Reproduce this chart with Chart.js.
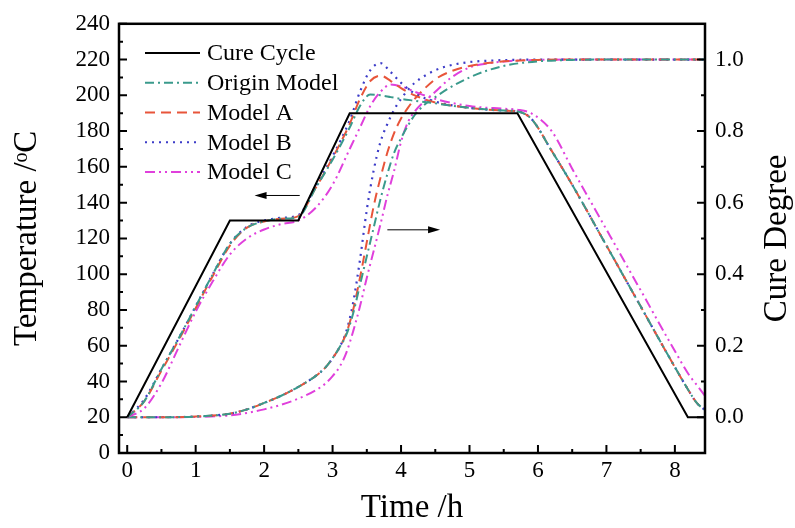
<!DOCTYPE html>
<html>
<head>
<meta charset="utf-8">
<script src="https://cdn.jsdelivr.net/npm/chart.js@4.4.1/dist/chart.umd.min.js"></script>
<style>
html, body { margin: 0; padding: 0; background: #fff; }
</style>
</head>
<body>
<canvas id="grafico" width="795" height="528"></canvas>
<script>
var serif = "'Liberation Serif', 'Times New Roman', serif";

// cure cycle (left axis, degC)
var cycleTime = [0, 1.5, 2.5, 3.25, 5.7, 8.19, 8.44];
var cycleTemp = [20, 130, 130, 190, 190, 20, 20];

// model temperatures (left axis)
var tempTime = [0, 0.25, 0.5, 0.75, 1.0, 1.25, 1.5, 1.75, 2.0, 2.25, 2.5, 2.75, 3.0, 3.25, 3.4, 3.55, 3.7, 3.85, 4.0, 4.2, 4.5, 5.0, 5.5, 5.7, 5.9, 6.2, 6.5, 7.0, 7.5, 8.0, 8.2, 8.32, 8.44];
var originTemp = [20, 29, 47, 64, 82, 100, 117, 126, 129.5, 131, 132, 148, 164, 182, 194, 200.5, 200, 199, 198, 197, 195.5, 193, 191.5, 191, 187, 169, 150, 116, 82, 48, 35, 28, 24];
var modelATemp = [20, 29, 46, 63, 81, 99, 116, 126, 129.5, 131, 132.5, 148, 165, 184, 198, 208, 211, 208, 204, 200, 196, 193, 191.5, 191, 187, 169, 150, 116, 82, 48, 35, 28, 24];
var modelBTemp = [20, 30, 47, 64, 82, 100, 117, 126.5, 130, 131.5, 133, 149, 166, 186, 202, 214, 218, 213, 207, 201, 196.5, 193, 191.5, 191, 187, 169, 150, 116, 82, 48, 35, 28, 24];
var modelCTemp = [20, 25, 39, 59, 79, 96, 111, 120, 125, 128, 130, 137, 150, 170, 182, 194, 202, 206, 205, 202, 198, 194, 192.5, 192, 190, 180, 159, 125, 91, 57, 44, 38, 32];

// cure degree (right axis)
var cureTime = [0, 0.5, 1.0, 1.5, 1.75, 2.0, 2.25, 2.5, 2.75, 2.9, 3.0, 3.1, 3.2, 3.3, 3.4, 3.5, 3.6, 3.7, 3.8, 3.9, 4.0, 4.1, 4.2, 4.35, 4.5, 4.7, 5.0, 5.3, 5.6, 6.0, 6.5, 7.0, 8.44];
var originCure = [0, 0, 0.002, 0.01, 0.022, 0.04, 0.06, 0.085, 0.115, 0.14, 0.165, 0.195, 0.23, 0.29, 0.37, 0.45, 0.53, 0.61, 0.68, 0.74, 0.78, 0.815, 0.845, 0.875, 0.895, 0.92, 0.95, 0.972, 0.986, 0.995, 0.999, 1.0, 1.0];
var modelACure = [0, 0, 0.002, 0.01, 0.022, 0.04, 0.06, 0.085, 0.115, 0.14, 0.165, 0.195, 0.235, 0.3, 0.39, 0.49, 0.59, 0.67, 0.74, 0.795, 0.835, 0.865, 0.89, 0.92, 0.945, 0.965, 0.982, 0.991, 0.996, 0.999, 1.0, 1.0, 1.0];
var modelBCure = [0, 0, 0.002, 0.01, 0.022, 0.04, 0.06, 0.085, 0.115, 0.14, 0.165, 0.195, 0.24, 0.32, 0.44, 0.58, 0.69, 0.77, 0.82, 0.86, 0.89, 0.915, 0.935, 0.955, 0.97, 0.983, 0.993, 0.997, 0.999, 1.0, 1.0, 1.0, 1.0];
var modelCCure = [0, 0, 0.001, 0.005, 0.012, 0.022, 0.035, 0.052, 0.075, 0.095, 0.115, 0.14, 0.18, 0.24, 0.31, 0.39, 0.465, 0.54, 0.62, 0.69, 0.77, 0.825, 0.855, 0.885, 0.91, 0.945, 0.978, 0.99, 0.996, 0.999, 1.0, 1.0, 1.0];

var legendLabels = ['Cure Cycle', 'Origin Model', 'Model A', 'Model B', 'Model C'];
var timeTicks = [0, 1, 2, 3, 4, 5, 6, 7, 8];
var tempTicks = [0, 20, 40, 60, 80, 100, 120, 140, 160, 180, 200, 220, 240];
var cureTicks = [0.0, 0.2, 0.4, 0.6, 0.8, 1.0];

// arrows: [from time, to time, at temperature]
var arrowToTemp = [2.52, 1.86, 144];
var arrowToCure = [3.80, 4.57, 124.8];

var estilos = [
    {cor: '#000000', traco: [], largura: 2},
    {cor: '#3a9a8c', traco: [9, 4, 2, 4], largura: 2},
    {cor: '#e8553a', traco: [10, 6], largura: 2},
    {cor: '#3c3cc8', traco: [2, 5], largura: 2.2},
    {cor: '#e040dc', traco: [10, 4, 2, 4, 2, 4], largura: 2}
];

function pares(xs, ys) {
    return xs.map(function (x, i) { return {x: x, y: ys[i]}; });
}

function serie(label, pontos, estilo, eixo, curva) {
    return {
        label: label,
        data: pontos,
        yAxisID: eixo,
        borderColor: estilo.cor,
        borderDash: estilo.traco,
        borderWidth: estilo.largura,
        pointRadius: 0,
        fill: false,
        tension: 0,
        cubicInterpolationMode: curva ? 'monotone' : 'default'
    };
}

var dados = {
    datasets: [
        serie(legendLabels[0], pares(cycleTime, cycleTemp), estilos[0], 'y', false),
        serie(legendLabels[1], pares(tempTime, originTemp), estilos[1], 'y', true),
        serie(legendLabels[2], pares(tempTime, modelATemp), estilos[2], 'y', true),
        serie(legendLabels[3], pares(tempTime, modelBTemp), estilos[3], 'y', true),
        serie(legendLabels[4], pares(tempTime, modelCTemp), estilos[4], 'y', true),
        serie(legendLabels[1], pares(cureTime, originCure), estilos[1], 'y1', true),
        serie(legendLabels[2], pares(cureTime, modelACure), estilos[2], 'y1', true),
        serie(legendLabels[3], pares(cureTime, modelBCure), estilos[3], 'y1', true),
        serie(legendLabels[4], pares(cureTime, modelCCure), estilos[4], 'y1', true)
    ]
};

function fixarTicks(lista) {
    return function (scale) {
        scale.ticks = lista.map(function (v) { return {value: v}; });
    };
}

function seta(ctx, x1, x2, y) {
    var dir = x2 > x1 ? 1 : -1;
    ctx.beginPath();
    ctx.moveTo(x1, y);
    ctx.lineTo(x2 - dir * 8, y);
    ctx.stroke();
    ctx.beginPath();
    ctx.moveTo(x2, y);
    ctx.lineTo(x2 - dir * 12, y - 3.5);
    ctx.lineTo(x2 - dir * 12, y + 3.5);
    ctx.closePath();
    ctx.fill();
}

var extras = {
    id: 'extras',
    afterDraw: function (chart) {
        var ctx = chart.ctx, a = chart.chartArea;
        var sx = chart.scales.x, sy = chart.scales.y, sy1 = chart.scales.y1;
        var i, p, len;
        ctx.save();
        ctx.strokeStyle = '#000';
        ctx.fillStyle = '#000';

        // moldura
        ctx.lineWidth = 2.5;
        ctx.strokeRect(a.left, a.top, a.right - a.left, a.bottom - a.top);

        // ticks para dentro
        ctx.lineWidth = 2;
        ctx.beginPath();
        for (i = 0; i <= 16; i++) {
            p = sx.getPixelForValue(i / 2);
            len = i % 2 === 0 ? 8 : 4;
            ctx.moveTo(p, a.bottom);
            ctx.lineTo(p, a.bottom - len);
        }
        for (i = 0; i <= 24; i++) {
            p = sy.getPixelForValue(i * 10);
            len = i % 2 === 0 ? 8 : 4;
            ctx.moveTo(a.left, p);
            ctx.lineTo(a.left + len, p);
        }
        for (i = 0; i <= 10; i++) {
            p = sy1.getPixelForValue(i / 10);
            len = i % 2 === 0 ? 8 : 4;
            ctx.moveTo(a.right, p);
            ctx.lineTo(a.right - len, p);
        }
        ctx.stroke();

        // setas
        ctx.lineWidth = 1;
        seta(ctx, sx.getPixelForValue(arrowToTemp[0]), sx.getPixelForValue(arrowToTemp[1]), sy.getPixelForValue(arrowToTemp[2]));
        seta(ctx, sx.getPixelForValue(arrowToCure[0]), sx.getPixelForValue(arrowToCure[1]), sy.getPixelForValue(arrowToCure[2]));

        // legenda
        ctx.font = '24px ' + serif;
        ctx.textBaseline = 'middle';
        ctx.textAlign = 'left';
        for (i = 0; i < legendLabels.length; i++) {
            var yy = 53 + i * 29.75;
            ctx.strokeStyle = estilos[i].cor;
            ctx.lineWidth = estilos[i].largura;
            ctx.setLineDash(estilos[i].traco);
            ctx.beginPath();
            ctx.moveTo(145, yy);
            ctx.lineTo(200, yy);
            ctx.stroke();
            ctx.setLineDash([]);
            ctx.fillText(legendLabels[i], 207, yy + 1);
        }

        // titulo do eixo direito
        ctx.translate(777, (a.top + a.bottom) / 2);
        ctx.rotate(-Math.PI / 2);
        ctx.textAlign = 'center';
        ctx.font = '33px ' + serif;
        ctx.fillText('Cure Degree', 0, 0);
        ctx.restore();
    }
};

var contexto = document.getElementById('grafico').getContext('2d');
Chart.defaults.color = '#000';
var grafico = new Chart(contexto, {
    type: 'line',
    data: dados,
    plugins: [extras],
    options: {
        responsive: false,
        animation: false,
        layout: {padding: {top: 18, left: 0, right: 0, bottom: 0}},
        plugins: {
            legend: {display: false},
            tooltip: {enabled: false}
        },
        scales: {
            x: {
                type: 'linear',
                min: -0.12,
                max: 8.44,
                afterBuildTicks: fixarTicks(timeTicks),
                afterFit: function (s) { s.height = 75; },
                grid: {display: false, drawTicks: false},
                border: {display: false},
                ticks: {font: {family: serif, size: 23}, padding: 4, maxRotation: 0},
                title: {display: true, text: 'Time /h', font: {family: serif, size: 33}, padding: {top: 0, bottom: 0}}
            },
            y: {
                position: 'left',
                min: 0,
                max: 240,
                afterBuildTicks: fixarTicks(tempTicks),
                afterFit: function (s) { s.width = 119; },
                grid: {display: false, drawTicks: false},
                border: {display: false},
                ticks: {font: {family: serif, size: 23}, padding: 9},
                title: {display: true, text: 'Temperature /\u1D52C', font: {family: serif, size: 33}, padding: {top: 8, bottom: 0}}
            },
            y1: {
                position: 'right',
                min: -0.1,
                max: 1.1,
                afterBuildTicks: fixarTicks(cureTicks),
                afterFit: function (s) { s.width = 90; },
                grid: {display: false, drawTicks: false},
                border: {display: false},
                ticks: {
                    font: {family: serif, size: 23},
                    padding: 10,
                    callback: function (v) { return Number(v).toFixed(1); }
                }
            }
        }
    }
});
</script>
</body>
</html>
